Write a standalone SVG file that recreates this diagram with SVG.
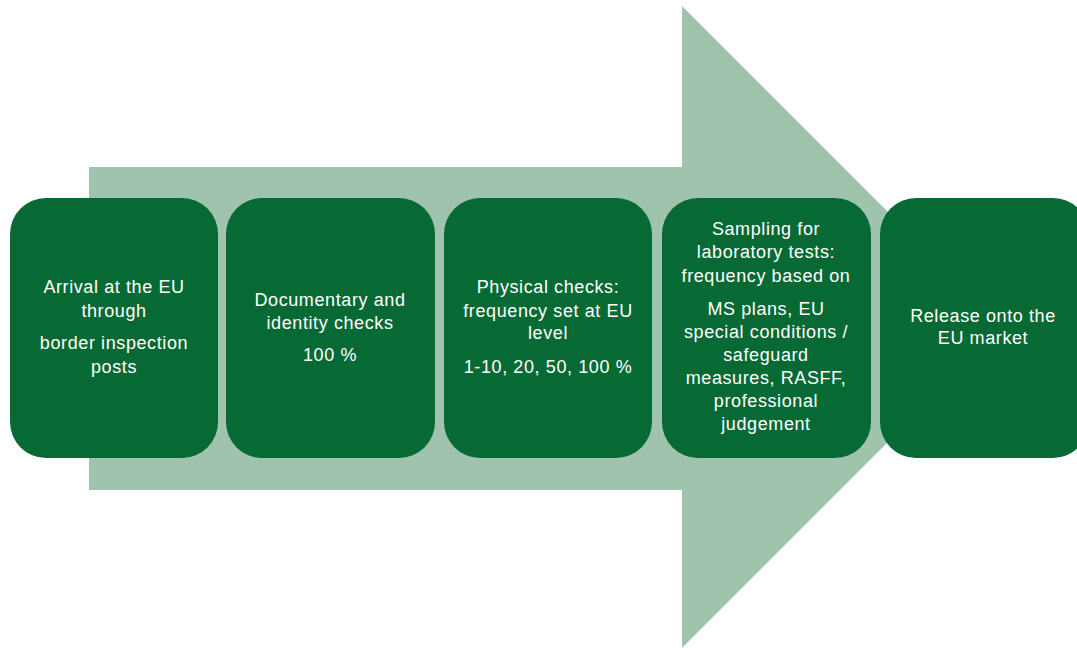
<svg xmlns="http://www.w3.org/2000/svg" width="1077" height="648" viewBox="0 0 1077 648">
<style>
.box{fill:#076a35}
.t{font-family:"Liberation Sans",Arial,sans-serif;font-size:18px;fill:#ffffff;text-anchor:middle;letter-spacing:0.6px}
</style>
<rect width="1077" height="648" fill="#ffffff"/>
<g id="arrow">
<polygon points="89,167 682,167 682,6 1003,327 682,648 682,490 89,490" fill="#a0c3ae"/>
</g>
<g id="connectors"></g>
<g id="node1">
<rect class="box" x="10" y="198" width="208" height="260" rx="36" ry="36"/>
<text class="t" x="114" y="293">Arrival at the EU</text>
<text class="t" x="114" y="317">through</text>
<text class="t" x="114" y="349">border inspection</text>
<text class="t" x="114" y="373">posts</text>
</g>
<g id="node2">
<rect class="box" x="226" y="198" width="209" height="260" rx="36" ry="36"/>
<text class="t" x="330" y="306">Documentary and</text>
<text class="t" x="330" y="329">identity checks</text>
<text class="t" x="330" y="361">100 %</text>
</g>
<g id="node3">
<rect class="box" x="444" y="198" width="208" height="260" rx="36" ry="36"/>
<text class="t" x="548" y="293">Physical checks:</text>
<text class="t" x="548" y="317">frequency set at EU</text>
<text class="t" x="548" y="339">level</text>
<text class="t" x="548" y="373">1-10, 20, 50, 100 %</text>
</g>
<g id="node4">
<rect class="box" x="662" y="198" width="209" height="260" rx="36" ry="36"/>
<text class="t" x="766" y="235">Sampling for</text>
<text class="t" x="766" y="258">laboratory tests:</text>
<text class="t" x="766" y="282">frequency based on</text>
<text class="t" x="766" y="315">MS plans, EU</text>
<text class="t" x="766" y="338">special conditions /</text>
<text class="t" x="766" y="361">safeguard</text>
<text class="t" x="766" y="384">measures, RASFF,</text>
<text class="t" x="766" y="407">professional</text>
<text class="t" x="766" y="430">judgement</text>
</g>
<g id="node5">
<rect class="box" x="880" y="198" width="209" height="260" rx="36" ry="36"/>
<text class="t" x="983" y="322">Release onto the</text>
<text class="t" x="983" y="344">EU market</text>
</g>
</svg>
